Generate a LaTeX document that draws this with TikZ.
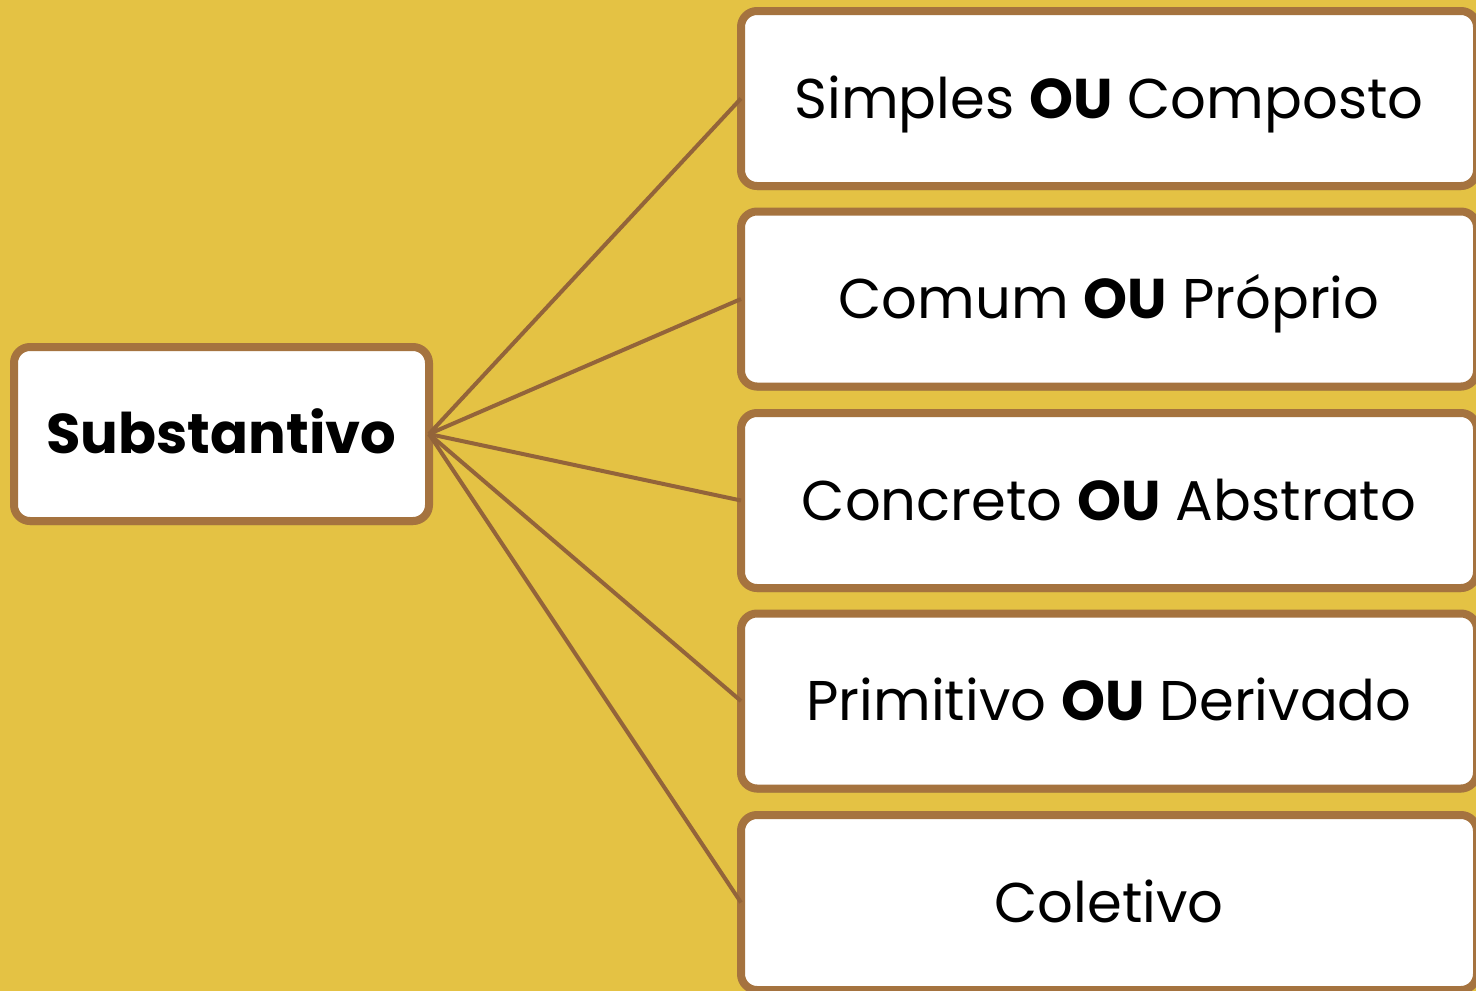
\documentclass[tikz,border=0pt]{standalone}
\usepackage{fontspec}
\setmainfont{Poppins}
\usetikzlibrary{shadows}
\definecolor{bgyellow}{HTML}{E4C244}
\definecolor{boxbrown}{HTML}{A5733F}
\definecolor{linebrown}{HTML}{93643A}
\begin{document}
\begin{tikzpicture}[x=1pt,y=-1pt,
  box/.style={draw=boxbrown, line width=8pt, fill=white, rounded corners=16pt,
    drop shadow={shadow xshift=0pt, shadow yshift=-4pt, opacity=0.35, fill=black!70},
    inner sep=0pt, outer sep=0pt, text depth=0pt},
  leftbox/.style={box, minimum width=415pt, minimum height=174pt, text height=39pt,
    font=\fontsize{56}{62}\selectfont\bfseries},
  rightbox/.style={box, minimum width=736pt, minimum height=175pt, text height=39pt,
    font=\fontsize{56}{62}\selectfont},
  conn/.style={draw=linebrown, line width=4pt}
]
\fill[bgyellow] (0,0) rectangle (1476,991);
\useasboundingbox (0,0) rectangle (1476,991);
\node[leftbox] (sub) at (221.5,434) {Substantivo};
\node[rightbox] (b1) at (1109,98.5) {Simples \textbf{OU} Composto};
\node[rightbox] (b2) at (1109,299) {Comum \textbf{OU} Próprio};
\node[rightbox] (b3) at (1109,500.5) {Concreto \textbf{OU} Abstrato};
\node[rightbox] (b4) at (1109,701) {Primitivo \textbf{OU} Derivado};
\node[rightbox] (b5) at (1109,902.5) {Coletivo};
\foreach \b in {b1,b2,b3,b4,b5}
  \draw[conn] (sub.east) -- (\b.west);
\end{tikzpicture}
\end{document}
